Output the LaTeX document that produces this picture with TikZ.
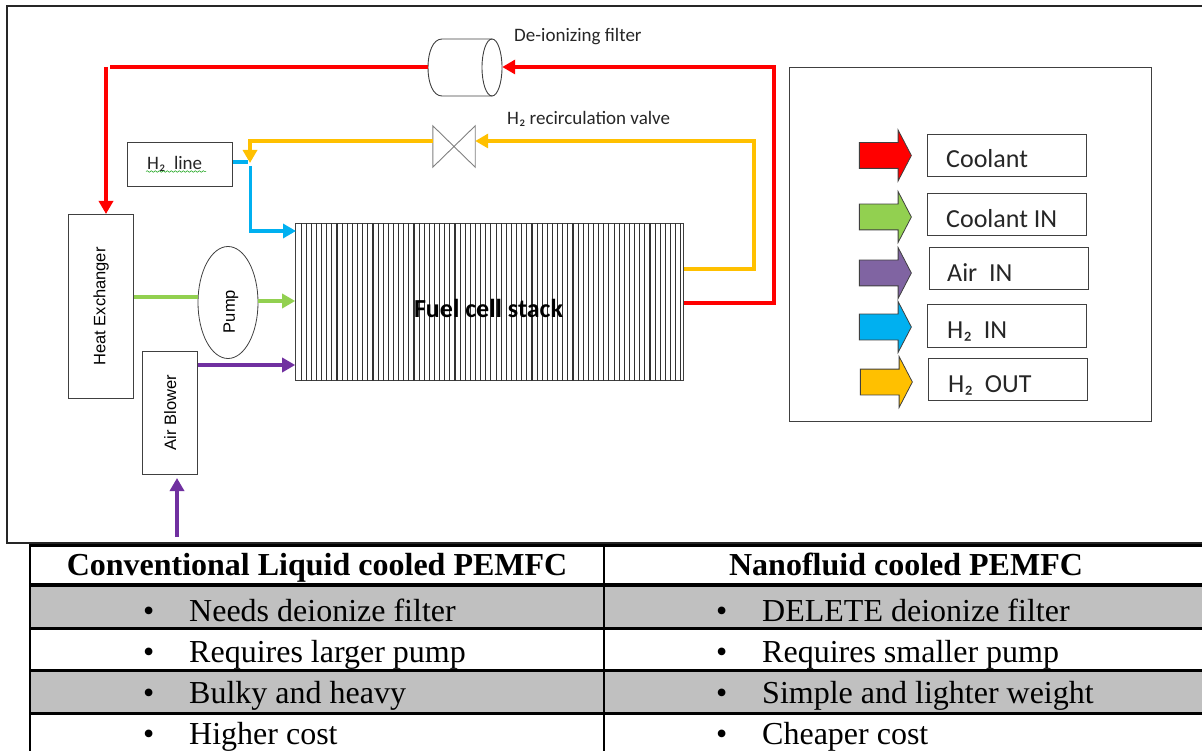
\documentclass[tikz,border=0pt]{standalone}
\usepackage{fontspec}
\usepackage{graphicx}
\setmainfont{Liberation Serif}
\newfontfamily\carlitofont{Carlito}
\newfontfamily\arialfont{Liberation Sans}
\usetikzlibrary{arrows.meta,shapes.geometric,shapes.arrows,decorations.pathmorphing}

\definecolor{coolantred}{HTML}{FF0000}
\definecolor{coolantgreen}{HTML}{92D050}
\definecolor{airpurple}{HTML}{7030A0}
\definecolor{legendpurple}{HTML}{8064A2}
\definecolor{hydroblue}{HTML}{00B0F0}
\definecolor{hydroorange}{HTML}{FFC000}
\definecolor{rowgrey}{HTML}{C0C0C0}
\definecolor{shapeline}{HTML}{404040}

\tikzset{
	box/.style={draw=shapeline,line width=1pt,rectangle,inner sep=0pt},
	legendbox/.style={box,minimum width=159pt,minimum height=42pt},
	legendarrow/.style={draw=shapeline,line width=0.8pt,single arrow,minimum height=52pt,inner xsep=0pt,inner ysep=12.5pt,single arrow head extend=12.5pt,single arrow head indent=0pt,single arrow tip angle=125},
	legendtext/.style={anchor=base west,inner sep=0pt,font=\carlitofont\fontsize{26}{26}\selectfont,text=black!85},
	smalltext/.style={anchor=base west,inner sep=0pt,font=\carlitofont\fontsize{19}{19}\selectfont,text=black!85},
	boxtext/.style={font=\arialfont\fontsize{16.5}{16.5}\selectfont},
	pipe/.style={line width=3.5pt},
	pipetip/.style={-{Triangle[length=13pt,width=14pt]}},
	headtext/.style={anchor=base,inner sep=0pt,font=\bfseries\fontsize{32}{32}\selectfont},
	celltext/.style={anchor=base west,inner sep=0pt,font=\fontsize{32}{32}\selectfont},
	rowline/.style={line width=3pt},
}

\begin{document}
\begin{tikzpicture}[x=1pt,y=-1pt]
	\useasboundingbox (0,0) rectangle (1202,751);
	\draw[line width=1.5pt,draw=black!85] (1202,6) -- (7,6) -- (7,543) -- (1202,543);

	\node[box,minimum width=388pt,minimum height=157pt] (stack) at (489.7,302) {};
	\foreach \n in {1,...,75}
		\draw[line width=1.1pt,draw=black!80] ({296+5.13*\n},223.5) -- ({296+5.13*\n},380.5);
	\node[font=\carlitofont\bfseries\fontsize{26}{26}\selectfont,inner sep=0pt] (stacklabel) at (488.5,308) {Fuel cell stack};

	\node[box,minimum width=65pt,minimum height=184pt,boxtext] (exchanger) at (101.2,306.5) {\rotatebox{90}{Heat Exchanger}};
	\node[box,minimum width=55pt,minimum height=123pt,boxtext] (blower) at (170.2,412.7) {\rotatebox{90}{Air Blower}};
	\node[box,minimum width=105pt,minimum height=44pt] (hline) at (180.2,164.5) {};
	\node[draw=shapeline,line width=0.8pt,ellipse,minimum width=60pt,minimum height=112pt,inner sep=0pt] (pump) at (228,302.5) {};
	\node[boxtext,rotate=90,inner sep=0pt] (pumplabel) at (231,311.5) {Pump};

	\node[minimum width=74pt,minimum height=57pt,inner sep=0pt] (filter) at (465,67.5) {};
	\draw[line width=0.9pt,draw=shapeline] (492,39) -- (442,39) .. controls (433,39) and (428,52) .. (428,67.5) .. controls (428,83) and (433,96) .. (442,96) -- (492,96);
	\draw[line width=0.9pt,draw=shapeline] (492,67.5) ellipse [x radius=10,y radius=28.5];
	\node[minimum width=42pt,minimum height=41pt,inner sep=0pt] (valve) at (454,146.5) {};
	\draw[line width=0.9pt,draw=gray] (valve.north west) -- (valve.south east) -- (valve.north east) -- (valve.south west) -- cycle;

	\node[smalltext] (filterlabel) at (514,42) {De-ionizing filter};
	\node[smalltext] (valvelabel) at (507,125) {H₂ recirculation valve};
	\node[smalltext] (hlinelabel) at (147,170) {H₂\ \ line};
	\draw[green!60!black,line width=0.5pt,decorate,decoration={snake,amplitude=0.8pt,segment length=4pt}] (146,171.5) -- (206,171.5);

	\coordinate (redout) at (684,303);
	\coordinate (redturn) at (774,67);
	\coordinate (redleft) at (110,67);
	\coordinate (reddown) at (106,67);
	\coordinate (yellowout) at (684,269);
	\coordinate (yellowturn) at (754,141);
	\coordinate (yellowin) at (250,141);
	\coordinate (yellowtip) at (250,163);
	\coordinate (blueout) at (248,162);
	\coordinate (bluestart) at (250.5,166);
	\coordinate (bluein) at (296,231);
	\coordinate (airstart) at (177,537);
	\coordinate (airtip) at (177,478);

	\draw[pipe,line width=4pt,draw=coolantred,pipetip] (redout) -| (redturn) -- (filter.east |- redturn);
	\draw[pipe,line width=4pt,draw=coolantred] (filter.west |- redleft) -- (redleft);
	\draw[pipe,line width=4pt,draw=coolantred,pipetip] (reddown) -- (exchanger.north -| reddown);
	\draw[pipe,draw=hydroorange,pipetip] (yellowout) -| (yellowturn) -- (valve.east |- yellowturn);
	\draw[pipe,draw=hydroorange,pipetip] (valve.west |- yellowin) -- (yellowin) -- (yellowtip);
	\draw[pipe,draw=hydroblue] (hline.east |- blueout) -- (blueout);
	\draw[pipe,draw=hydroblue,pipetip] (bluestart) |- (bluein);
	\draw[pipe,draw=coolantgreen] (exchanger.east |- 0,297) -- (pump.west |- 0,297);
	\draw[pipe,draw=coolantgreen,pipetip] (pump.east |- 0,301) -- (stack.west |- 0,301);
	\draw[pipe,draw=airpurple,pipetip] (blower.east |- 0,365) -- (stack.west |- 0,365);
	\draw[pipe,draw=airpurple,pipetip] (airstart) -- (airtip);

	\node[box,minimum width=362pt,minimum height=354pt] (legend) at (970,244.5) {};
	\node[legendarrow,fill=coolantred] (arrowcoolant) at (882,155.5) {};
	\node[legendbox] (boxcoolant) at (1006.5,155.5) {};
	\node[legendtext] (textcoolant) at (946,168) {Coolant};
	\node[legendarrow,fill=coolantgreen] (arrowcoolantin) at (882,217) {};
	\node[legendbox] (boxcoolantin) at (1006.5,215) {};
	\node[legendtext] (textcoolantin) at (946,228) {Coolant IN};
	\node[legendarrow,fill=legendpurple] (arrowair) at (882,273) {};
	\node[legendbox] (boxair) at (1008.5,269) {};
	\node[legendtext] (textair) at (947,282) {Air\ \ IN};
	\node[legendarrow,fill=hydroblue] (arrowhin) at (882,327) {};
	\node[legendbox] (boxhin) at (1006.5,326) {};
	\node[legendtext] (texthin) at (947,338) {H₂\ \ IN};
	\node[legendarrow,fill=hydroorange] (arrowhout) at (883,382) {};
	\node[legendbox] (boxhout) at (1008,379) {};
	\node[legendtext] (texthout) at (948,392) {H₂\ \ OUT};

	\fill[rowgrey] (30,586) rectangle (1202,628);
	\fill[rowgrey] (30,670) rectangle (1202,713);
	\draw[rowline] (30,545) -- (1202,545);
	\draw[line width=4pt] (30,585) -- (1202,585);
	\draw[rowline] (30,628) -- (1202,628);
	\draw[rowline] (30,670) -- (1202,670);
	\draw[rowline] (30,713) -- (1202,713);
	\draw[line width=2.5pt] (30,544) -- (30,751);
	\draw[line width=2.5pt] (604,544) -- (604,751);

	\node[headtext] (headleft) at (317,575) {Conventional Liquid cooled PEMFC};
	\node[headtext] (headright) at (906,575) {Nanofluid cooled PEMFC};
	\foreach \y/\tl/\tr in {621/Needs deionize filter/DELETE deionize filter,662.5/Requires larger pump/Requires smaller pump,703/Bulky and heavy/Simple and lighter weight,744.5/Higher cost/Cheaper cost} {
		\node[celltext] at (143,\y) {•};
		\node[celltext] at (189,\y) {\tl};
		\node[celltext] at (716,\y) {•};
		\node[celltext] at (762,\y) {\tr};
	}
\end{tikzpicture}
\end{document}
